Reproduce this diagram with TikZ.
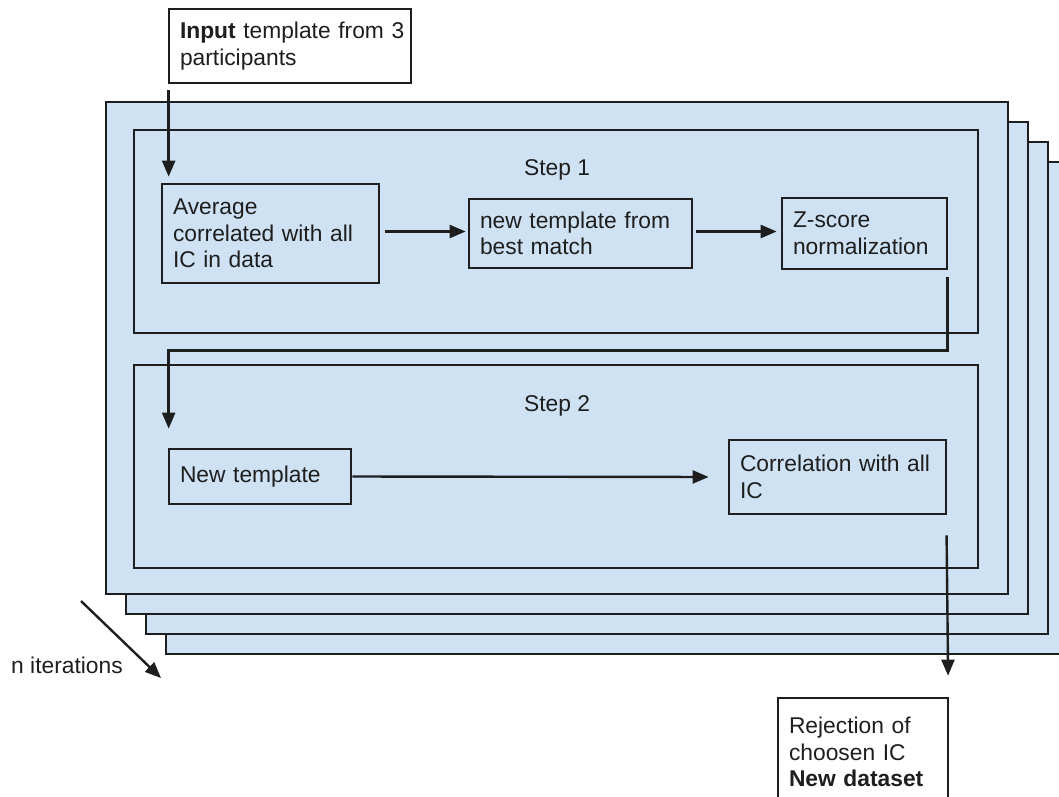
\documentclass[tikz,border=0pt]{standalone}
\usepackage{fontspec}
\setmainfont{Liberation Sans}
\usetikzlibrary{arrows.meta}
\definecolor{bfill}{HTML}{CFE2F3}
\definecolor{ink}{HTML}{1E1E1E}
\begin{document}
\begin{tikzpicture}[x=1pt,y=-1pt,
  every node/.style={font=\fontsize{22.8}{26.5}\selectfont, text=ink},
  frame/.style={draw=ink, line width=2.7pt, fill=bfill},
  box/.style={draw=ink, line width=2.7pt, fill=bfill, align=left, inner xsep=11pt, inner ysep=0pt},
  wbox/.style={box, fill=white},
  arr/.style={draw=ink, line width=2.4pt, -{Triangle[length=16pt,width=13pt]}},
  lbl/.style={inner sep=0pt}]
\useasboundingbox (0,0) rectangle (1059,796);
\clip (0,0) rectangle (1059,796);
% stacked iteration frames
\foreach \k in {3,2,1,0} {
  \draw[frame] ({106+20*\k},{102+20*\k}) rectangle ({1008+20*\k},{594+20*\k});
}
% step boxes
\node[box, minimum width=844pt, minimum height=203pt] (step1) at (556,231.5) {};
\node[box, minimum width=844pt, minimum height=203pt] (step2) at (556,466.5) {};
\node[lbl, anchor=base] (s1lbl) at (557,175) {Step 1};
\node[lbl, anchor=base] (s2lbl) at (557,411) {Step 2};
% nodes
\node[wbox, inner xsep=11pt, text width=220pt, minimum width=242pt, minimum height=74pt] (input) at (290,46)
  {\mbox{\textbf{Input} template from 3}\\participants};
\node[box, text width=195pt, minimum width=217pt, minimum height=99pt] (avg) at (270.5,233.5)
  {Average\\correlated with all\\IC in data};
\node[box, text width=201pt, minimum width=223pt, minimum height=69pt] (newt) at (580.5,233.5)
  {new template from\\best match};
\node[box, text width=143pt, minimum width=165pt, minimum height=71pt] (z) at (864.5,233.5)
  {Z-score\\normalization};
\node[box, text width=160pt, minimum width=182pt, minimum height=55pt] (nt2) at (260,476.5)
  {New template};
\node[box, text width=195pt, minimum width=217pt, minimum height=74pt] (corr) at (837.5,477)
  {Correlation with all\\IC};
\node[wbox, text width=148pt, minimum width=170pt, minimum height=108pt] (rej) at (863,752)
  {Rejection of\\choosen IC\\\textbf{New dataset}};
\node[lbl, anchor=base west] (niter) at (11,673) {n iterations};
% connectors
\draw[arr, shorten <=6pt, shorten >=6pt] ([xshift=1pt]input.south west) -- ([xshift=8pt]avg.north west);
\draw[arr, shorten <=5pt, shorten >=2pt] ([yshift=2pt]avg.east) -- ([yshift=2pt]newt.west);
\draw[arr, shorten <=3pt, shorten >=4pt] ([yshift=2pt]newt.east) -- ([yshift=2pt]z.west);
\draw[arr] ([xshift=-1pt,yshift=-7pt]z.south east) -- ++(0,73) -| ([xshift=1pt,yshift=19pt]nt2.north west);
\draw[arr, shorten >=19pt] (nt2.east) -- (corr.west);
\draw[arr, shorten <=20pt, shorten >=21pt] ([xshift=-1pt]corr.south east) -- ([xshift=-1pt]rej.north east);
\coordinate (it1) at (81,601);
\coordinate (it2) at (161,678);
\draw[arr] (it1) -- (it2);
\end{tikzpicture}
\end{document}
